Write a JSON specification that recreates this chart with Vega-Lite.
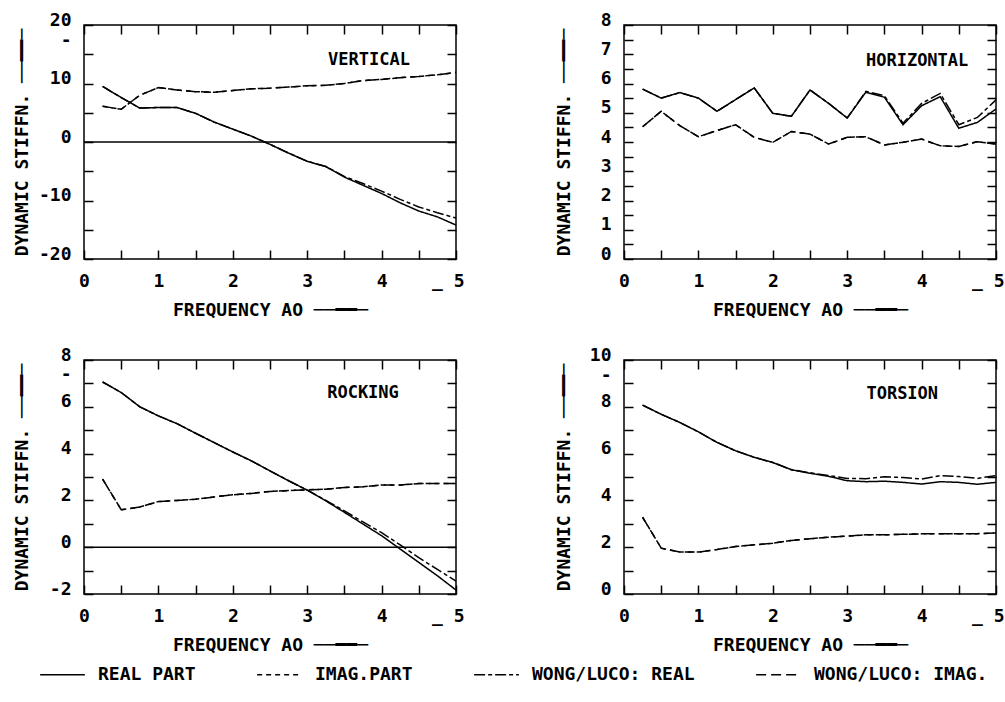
{
  "$schema": "https://vega.github.io/schema/vega-lite/v6.json",
  "background": "white",
  "padding": {"left": 12, "top": 10, "right": 5, "bottom": 5},
  "config": {
    "font": "DejaVu Sans Mono",
    "view": {"stroke": "black", "strokeWidth": 1.5},
    "axis": {
      "grid": false, "domain": false, "tickColor": "black", "tickWidth": 1.5, "tickSize": -9,
      "labelFont": "DejaVu Sans Mono", "labelFontSize": 18, "labelFontWeight": "bold", "labelColor": "black",
      "titleFont": "DejaVu Sans Mono", "titleFontSize": 18, "titleFontWeight": "bold", "titleColor": "black",
      "labelOverlap": false, "labelFlush": false
    },
    "legend": {
      "labelFont": "DejaVu Sans Mono", "labelFontSize": 18, "labelFontWeight": "bold", "labelColor": "black", "labelLimit": 0
    }
  },
  "datasets": {
    "curves": [
      {"p":"V","s":"REAL PART","x":0.25,"y":9.5},{"p":"V","s":"REAL PART","x":0.5,"y":7.6},{"p":"V","s":"REAL PART","x":0.75,"y":5.8},{"p":"V","s":"REAL PART","x":1.0,"y":5.9},{"p":"V","s":"REAL PART","x":1.25,"y":5.9},{"p":"V","s":"REAL PART","x":1.5,"y":4.9},{"p":"V","s":"REAL PART","x":1.75,"y":3.4},{"p":"V","s":"REAL PART","x":2.0,"y":2.2},{"p":"V","s":"REAL PART","x":2.25,"y":1.0},{"p":"V","s":"REAL PART","x":2.5,"y":-0.4},{"p":"V","s":"REAL PART","x":2.75,"y":-1.9},{"p":"V","s":"REAL PART","x":3.0,"y":-3.3},{"p":"V","s":"REAL PART","x":3.25,"y":-4.2},{"p":"V","s":"REAL PART","x":3.5,"y":-6.0},{"p":"V","s":"REAL PART","x":3.75,"y":-7.4},{"p":"V","s":"REAL PART","x":4.0,"y":-8.8},{"p":"V","s":"REAL PART","x":4.25,"y":-10.4},{"p":"V","s":"REAL PART","x":4.5,"y":-11.8},{"p":"V","s":"REAL PART","x":4.75,"y":-12.8},{"p":"V","s":"REAL PART","x":5.0,"y":-14.2},
      {"p":"V","s":"WONG/LUCO: REAL","x":0.25,"y":9.5},{"p":"V","s":"WONG/LUCO: REAL","x":0.5,"y":7.6},{"p":"V","s":"WONG/LUCO: REAL","x":0.75,"y":5.8},{"p":"V","s":"WONG/LUCO: REAL","x":1.0,"y":5.9},{"p":"V","s":"WONG/LUCO: REAL","x":1.25,"y":5.9},{"p":"V","s":"WONG/LUCO: REAL","x":1.5,"y":4.9},{"p":"V","s":"WONG/LUCO: REAL","x":1.75,"y":3.4},{"p":"V","s":"WONG/LUCO: REAL","x":2.0,"y":2.2},{"p":"V","s":"WONG/LUCO: REAL","x":2.25,"y":1.0},{"p":"V","s":"WONG/LUCO: REAL","x":2.5,"y":-0.4},{"p":"V","s":"WONG/LUCO: REAL","x":2.75,"y":-1.9},{"p":"V","s":"WONG/LUCO: REAL","x":3.0,"y":-3.3},{"p":"V","s":"WONG/LUCO: REAL","x":3.25,"y":-4.2},{"p":"V","s":"WONG/LUCO: REAL","x":3.5,"y":-5.9},{"p":"V","s":"WONG/LUCO: REAL","x":3.75,"y":-7.1},{"p":"V","s":"WONG/LUCO: REAL","x":4.0,"y":-8.4},{"p":"V","s":"WONG/LUCO: REAL","x":4.25,"y":-9.8},{"p":"V","s":"WONG/LUCO: REAL","x":4.5,"y":-11.1},{"p":"V","s":"WONG/LUCO: REAL","x":4.75,"y":-12.1},{"p":"V","s":"WONG/LUCO: REAL","x":5.0,"y":-13.0},
      {"p":"V","s":"IMAG.PART","x":0.25,"y":6.1},{"p":"V","s":"IMAG.PART","x":0.5,"y":5.6},{"p":"V","s":"IMAG.PART","x":0.75,"y":8.0},{"p":"V","s":"IMAG.PART","x":1.0,"y":9.3},{"p":"V","s":"IMAG.PART","x":1.25,"y":8.9},{"p":"V","s":"IMAG.PART","x":1.5,"y":8.6},{"p":"V","s":"IMAG.PART","x":1.75,"y":8.5},{"p":"V","s":"IMAG.PART","x":2.0,"y":8.8},{"p":"V","s":"IMAG.PART","x":2.25,"y":9.1},{"p":"V","s":"IMAG.PART","x":2.5,"y":9.2},{"p":"V","s":"IMAG.PART","x":2.75,"y":9.4},{"p":"V","s":"IMAG.PART","x":3.0,"y":9.6},{"p":"V","s":"IMAG.PART","x":3.25,"y":9.7},{"p":"V","s":"IMAG.PART","x":3.5,"y":10.0},{"p":"V","s":"IMAG.PART","x":3.75,"y":10.5},{"p":"V","s":"IMAG.PART","x":4.0,"y":10.7},{"p":"V","s":"IMAG.PART","x":4.25,"y":11.0},{"p":"V","s":"IMAG.PART","x":4.5,"y":11.2},{"p":"V","s":"IMAG.PART","x":4.75,"y":11.5},{"p":"V","s":"IMAG.PART","x":5.0,"y":11.9},
      {"p":"V","s":"WONG/LUCO: IMAG.","x":0.25,"y":6.1},{"p":"V","s":"WONG/LUCO: IMAG.","x":0.5,"y":5.6},{"p":"V","s":"WONG/LUCO: IMAG.","x":0.75,"y":8.0},{"p":"V","s":"WONG/LUCO: IMAG.","x":1.0,"y":9.3},{"p":"V","s":"WONG/LUCO: IMAG.","x":1.25,"y":8.9},{"p":"V","s":"WONG/LUCO: IMAG.","x":1.5,"y":8.6},{"p":"V","s":"WONG/LUCO: IMAG.","x":1.75,"y":8.5},{"p":"V","s":"WONG/LUCO: IMAG.","x":2.0,"y":8.8},{"p":"V","s":"WONG/LUCO: IMAG.","x":2.25,"y":9.1},{"p":"V","s":"WONG/LUCO: IMAG.","x":2.5,"y":9.2},{"p":"V","s":"WONG/LUCO: IMAG.","x":2.75,"y":9.4},{"p":"V","s":"WONG/LUCO: IMAG.","x":3.0,"y":9.6},{"p":"V","s":"WONG/LUCO: IMAG.","x":3.25,"y":9.7},{"p":"V","s":"WONG/LUCO: IMAG.","x":3.5,"y":10.0},{"p":"V","s":"WONG/LUCO: IMAG.","x":3.75,"y":10.5},{"p":"V","s":"WONG/LUCO: IMAG.","x":4.0,"y":10.7},{"p":"V","s":"WONG/LUCO: IMAG.","x":4.25,"y":11.0},{"p":"V","s":"WONG/LUCO: IMAG.","x":4.5,"y":11.2},{"p":"V","s":"WONG/LUCO: IMAG.","x":4.75,"y":11.5},{"p":"V","s":"WONG/LUCO: IMAG.","x":5.0,"y":11.9},

      {"p":"H","s":"REAL PART","x":0.25,"y":5.81},{"p":"H","s":"REAL PART","x":0.5,"y":5.50},{"p":"H","s":"REAL PART","x":0.75,"y":5.69},{"p":"H","s":"REAL PART","x":1.0,"y":5.50},{"p":"H","s":"REAL PART","x":1.25,"y":5.05},{"p":"H","s":"REAL PART","x":1.5,"y":5.45},{"p":"H","s":"REAL PART","x":1.75,"y":5.85},{"p":"H","s":"REAL PART","x":2.0,"y":4.98},{"p":"H","s":"REAL PART","x":2.25,"y":4.88},{"p":"H","s":"REAL PART","x":2.5,"y":5.78},{"p":"H","s":"REAL PART","x":2.75,"y":5.32},{"p":"H","s":"REAL PART","x":3.0,"y":4.82},{"p":"H","s":"REAL PART","x":3.25,"y":5.70},{"p":"H","s":"REAL PART","x":3.5,"y":5.53},{"p":"H","s":"REAL PART","x":3.75,"y":4.59},{"p":"H","s":"REAL PART","x":4.0,"y":5.24},{"p":"H","s":"REAL PART","x":4.25,"y":5.55},{"p":"H","s":"REAL PART","x":4.5,"y":4.47},{"p":"H","s":"REAL PART","x":4.75,"y":4.67},{"p":"H","s":"REAL PART","x":5.0,"y":5.13},
      {"p":"H","s":"WONG/LUCO: REAL","x":0.25,"y":5.81},{"p":"H","s":"WONG/LUCO: REAL","x":0.5,"y":5.50},{"p":"H","s":"WONG/LUCO: REAL","x":0.75,"y":5.69},{"p":"H","s":"WONG/LUCO: REAL","x":1.0,"y":5.50},{"p":"H","s":"WONG/LUCO: REAL","x":1.25,"y":5.05},{"p":"H","s":"WONG/LUCO: REAL","x":1.5,"y":5.45},{"p":"H","s":"WONG/LUCO: REAL","x":1.75,"y":5.85},{"p":"H","s":"WONG/LUCO: REAL","x":2.0,"y":4.98},{"p":"H","s":"WONG/LUCO: REAL","x":2.25,"y":4.88},{"p":"H","s":"WONG/LUCO: REAL","x":2.5,"y":5.78},{"p":"H","s":"WONG/LUCO: REAL","x":2.75,"y":5.32},{"p":"H","s":"WONG/LUCO: REAL","x":3.0,"y":4.82},{"p":"H","s":"WONG/LUCO: REAL","x":3.25,"y":5.73},{"p":"H","s":"WONG/LUCO: REAL","x":3.5,"y":5.58},{"p":"H","s":"WONG/LUCO: REAL","x":3.75,"y":4.64},{"p":"H","s":"WONG/LUCO: REAL","x":4.0,"y":5.32},{"p":"H","s":"WONG/LUCO: REAL","x":4.25,"y":5.66},{"p":"H","s":"WONG/LUCO: REAL","x":4.5,"y":4.59},{"p":"H","s":"WONG/LUCO: REAL","x":4.75,"y":4.84},{"p":"H","s":"WONG/LUCO: REAL","x":5.0,"y":5.44},
      {"p":"H","s":"IMAG.PART","x":0.25,"y":4.52},{"p":"H","s":"IMAG.PART","x":0.5,"y":5.05},{"p":"H","s":"IMAG.PART","x":0.75,"y":4.56},{"p":"H","s":"IMAG.PART","x":1.0,"y":4.18},{"p":"H","s":"IMAG.PART","x":1.25,"y":4.39},{"p":"H","s":"IMAG.PART","x":1.5,"y":4.59},{"p":"H","s":"IMAG.PART","x":1.75,"y":4.16},{"p":"H","s":"IMAG.PART","x":2.0,"y":3.99},{"p":"H","s":"IMAG.PART","x":2.25,"y":4.36},{"p":"H","s":"IMAG.PART","x":2.5,"y":4.27},{"p":"H","s":"IMAG.PART","x":2.75,"y":3.93},{"p":"H","s":"IMAG.PART","x":3.0,"y":4.16},{"p":"H","s":"IMAG.PART","x":3.25,"y":4.18},{"p":"H","s":"IMAG.PART","x":3.5,"y":3.90},{"p":"H","s":"IMAG.PART","x":3.75,"y":3.99},{"p":"H","s":"IMAG.PART","x":4.0,"y":4.10},{"p":"H","s":"IMAG.PART","x":4.25,"y":3.87},{"p":"H","s":"IMAG.PART","x":4.5,"y":3.85},{"p":"H","s":"IMAG.PART","x":4.75,"y":4.01},{"p":"H","s":"IMAG.PART","x":5.0,"y":3.93},
      {"p":"H","s":"WONG/LUCO: IMAG.","x":0.25,"y":4.52},{"p":"H","s":"WONG/LUCO: IMAG.","x":0.5,"y":5.05},{"p":"H","s":"WONG/LUCO: IMAG.","x":0.75,"y":4.56},{"p":"H","s":"WONG/LUCO: IMAG.","x":1.0,"y":4.18},{"p":"H","s":"WONG/LUCO: IMAG.","x":1.25,"y":4.39},{"p":"H","s":"WONG/LUCO: IMAG.","x":1.5,"y":4.59},{"p":"H","s":"WONG/LUCO: IMAG.","x":1.75,"y":4.16},{"p":"H","s":"WONG/LUCO: IMAG.","x":2.0,"y":3.99},{"p":"H","s":"WONG/LUCO: IMAG.","x":2.25,"y":4.36},{"p":"H","s":"WONG/LUCO: IMAG.","x":2.5,"y":4.27},{"p":"H","s":"WONG/LUCO: IMAG.","x":2.75,"y":3.93},{"p":"H","s":"WONG/LUCO: IMAG.","x":3.0,"y":4.16},{"p":"H","s":"WONG/LUCO: IMAG.","x":3.25,"y":4.18},{"p":"H","s":"WONG/LUCO: IMAG.","x":3.5,"y":3.90},{"p":"H","s":"WONG/LUCO: IMAG.","x":3.75,"y":3.99},{"p":"H","s":"WONG/LUCO: IMAG.","x":4.0,"y":4.10},{"p":"H","s":"WONG/LUCO: IMAG.","x":4.25,"y":3.87},{"p":"H","s":"WONG/LUCO: IMAG.","x":4.5,"y":3.85},{"p":"H","s":"WONG/LUCO: IMAG.","x":4.75,"y":4.01},{"p":"H","s":"WONG/LUCO: IMAG.","x":5.0,"y":3.93},

      {"p":"R","s":"REAL PART","x":0.25,"y":7.06},{"p":"R","s":"REAL PART","x":0.5,"y":6.61},{"p":"R","s":"REAL PART","x":0.75,"y":6.0},{"p":"R","s":"REAL PART","x":1.0,"y":5.61},{"p":"R","s":"REAL PART","x":1.25,"y":5.28},{"p":"R","s":"REAL PART","x":1.5,"y":4.87},{"p":"R","s":"REAL PART","x":1.75,"y":4.47},{"p":"R","s":"REAL PART","x":2.0,"y":4.07},{"p":"R","s":"REAL PART","x":2.25,"y":3.69},{"p":"R","s":"REAL PART","x":2.5,"y":3.26},{"p":"R","s":"REAL PART","x":2.75,"y":2.84},{"p":"R","s":"REAL PART","x":3.0,"y":2.44},{"p":"R","s":"REAL PART","x":3.25,"y":1.98},{"p":"R","s":"REAL PART","x":3.5,"y":1.49},{"p":"R","s":"REAL PART","x":3.75,"y":0.99},{"p":"R","s":"REAL PART","x":4.0,"y":0.49},{"p":"R","s":"REAL PART","x":4.25,"y":-0.08},{"p":"R","s":"REAL PART","x":4.5,"y":-0.65},{"p":"R","s":"REAL PART","x":4.75,"y":-1.22},{"p":"R","s":"REAL PART","x":5.0,"y":-1.83},
      {"p":"R","s":"WONG/LUCO: REAL","x":0.25,"y":7.06},{"p":"R","s":"WONG/LUCO: REAL","x":0.5,"y":6.61},{"p":"R","s":"WONG/LUCO: REAL","x":0.75,"y":6.0},{"p":"R","s":"WONG/LUCO: REAL","x":1.0,"y":5.61},{"p":"R","s":"WONG/LUCO: REAL","x":1.25,"y":5.28},{"p":"R","s":"WONG/LUCO: REAL","x":1.5,"y":4.87},{"p":"R","s":"WONG/LUCO: REAL","x":1.75,"y":4.47},{"p":"R","s":"WONG/LUCO: REAL","x":2.0,"y":4.07},{"p":"R","s":"WONG/LUCO: REAL","x":2.25,"y":3.69},{"p":"R","s":"WONG/LUCO: REAL","x":2.5,"y":3.26},{"p":"R","s":"WONG/LUCO: REAL","x":2.75,"y":2.84},{"p":"R","s":"WONG/LUCO: REAL","x":3.0,"y":2.44},{"p":"R","s":"WONG/LUCO: REAL","x":3.25,"y":2.0},{"p":"R","s":"WONG/LUCO: REAL","x":3.5,"y":1.55},{"p":"R","s":"WONG/LUCO: REAL","x":3.75,"y":1.08},{"p":"R","s":"WONG/LUCO: REAL","x":4.0,"y":0.62},{"p":"R","s":"WONG/LUCO: REAL","x":4.25,"y":0.1},{"p":"R","s":"WONG/LUCO: REAL","x":4.5,"y":-0.45},{"p":"R","s":"WONG/LUCO: REAL","x":4.75,"y":-0.95},{"p":"R","s":"WONG/LUCO: REAL","x":5.0,"y":-1.45},
      {"p":"R","s":"IMAG.PART","x":0.25,"y":2.91},{"p":"R","s":"IMAG.PART","x":0.5,"y":1.60},{"p":"R","s":"IMAG.PART","x":0.75,"y":1.72},{"p":"R","s":"IMAG.PART","x":1.0,"y":1.95},{"p":"R","s":"IMAG.PART","x":1.25,"y":2.0},{"p":"R","s":"IMAG.PART","x":1.5,"y":2.05},{"p":"R","s":"IMAG.PART","x":1.75,"y":2.15},{"p":"R","s":"IMAG.PART","x":2.0,"y":2.24},{"p":"R","s":"IMAG.PART","x":2.25,"y":2.3},{"p":"R","s":"IMAG.PART","x":2.5,"y":2.38},{"p":"R","s":"IMAG.PART","x":2.75,"y":2.42},{"p":"R","s":"IMAG.PART","x":3.0,"y":2.45},{"p":"R","s":"IMAG.PART","x":3.25,"y":2.48},{"p":"R","s":"IMAG.PART","x":3.5,"y":2.55},{"p":"R","s":"IMAG.PART","x":3.75,"y":2.58},{"p":"R","s":"IMAG.PART","x":4.0,"y":2.66},{"p":"R","s":"IMAG.PART","x":4.25,"y":2.66},{"p":"R","s":"IMAG.PART","x":4.5,"y":2.72},{"p":"R","s":"IMAG.PART","x":4.75,"y":2.72},{"p":"R","s":"IMAG.PART","x":5.0,"y":2.72},
      {"p":"R","s":"WONG/LUCO: IMAG.","x":0.25,"y":2.91},{"p":"R","s":"WONG/LUCO: IMAG.","x":0.5,"y":1.60},{"p":"R","s":"WONG/LUCO: IMAG.","x":0.75,"y":1.72},{"p":"R","s":"WONG/LUCO: IMAG.","x":1.0,"y":1.95},{"p":"R","s":"WONG/LUCO: IMAG.","x":1.25,"y":2.0},{"p":"R","s":"WONG/LUCO: IMAG.","x":1.5,"y":2.05},{"p":"R","s":"WONG/LUCO: IMAG.","x":1.75,"y":2.15},{"p":"R","s":"WONG/LUCO: IMAG.","x":2.0,"y":2.24},{"p":"R","s":"WONG/LUCO: IMAG.","x":2.25,"y":2.3},{"p":"R","s":"WONG/LUCO: IMAG.","x":2.5,"y":2.38},{"p":"R","s":"WONG/LUCO: IMAG.","x":2.75,"y":2.42},{"p":"R","s":"WONG/LUCO: IMAG.","x":3.0,"y":2.45},{"p":"R","s":"WONG/LUCO: IMAG.","x":3.25,"y":2.48},{"p":"R","s":"WONG/LUCO: IMAG.","x":3.5,"y":2.55},{"p":"R","s":"WONG/LUCO: IMAG.","x":3.75,"y":2.58},{"p":"R","s":"WONG/LUCO: IMAG.","x":4.0,"y":2.66},{"p":"R","s":"WONG/LUCO: IMAG.","x":4.25,"y":2.66},{"p":"R","s":"WONG/LUCO: IMAG.","x":4.5,"y":2.72},{"p":"R","s":"WONG/LUCO: IMAG.","x":4.75,"y":2.72},{"p":"R","s":"WONG/LUCO: IMAG.","x":5.0,"y":2.72},

      {"p":"T","s":"REAL PART","x":0.25,"y":8.07},{"p":"T","s":"REAL PART","x":0.5,"y":7.68},{"p":"T","s":"REAL PART","x":0.75,"y":7.33},{"p":"T","s":"REAL PART","x":1.0,"y":6.93},{"p":"T","s":"REAL PART","x":1.25,"y":6.48},{"p":"T","s":"REAL PART","x":1.5,"y":6.12},{"p":"T","s":"REAL PART","x":1.75,"y":5.84},{"p":"T","s":"REAL PART","x":2.0,"y":5.62},{"p":"T","s":"REAL PART","x":2.25,"y":5.31},{"p":"T","s":"REAL PART","x":2.5,"y":5.16},{"p":"T","s":"REAL PART","x":2.75,"y":5.03},{"p":"T","s":"REAL PART","x":3.0,"y":4.84},{"p":"T","s":"REAL PART","x":3.25,"y":4.80},{"p":"T","s":"REAL PART","x":3.5,"y":4.82},{"p":"T","s":"REAL PART","x":3.75,"y":4.77},{"p":"T","s":"REAL PART","x":4.0,"y":4.70},{"p":"T","s":"REAL PART","x":4.25,"y":4.80},{"p":"T","s":"REAL PART","x":4.5,"y":4.77},{"p":"T","s":"REAL PART","x":4.75,"y":4.69},{"p":"T","s":"REAL PART","x":5.0,"y":4.77},
      {"p":"T","s":"WONG/LUCO: REAL","x":0.25,"y":8.07},{"p":"T","s":"WONG/LUCO: REAL","x":0.5,"y":7.68},{"p":"T","s":"WONG/LUCO: REAL","x":0.75,"y":7.33},{"p":"T","s":"WONG/LUCO: REAL","x":1.0,"y":6.93},{"p":"T","s":"WONG/LUCO: REAL","x":1.25,"y":6.48},{"p":"T","s":"WONG/LUCO: REAL","x":1.5,"y":6.12},{"p":"T","s":"WONG/LUCO: REAL","x":1.75,"y":5.84},{"p":"T","s":"WONG/LUCO: REAL","x":2.0,"y":5.62},{"p":"T","s":"WONG/LUCO: REAL","x":2.25,"y":5.31},{"p":"T","s":"WONG/LUCO: REAL","x":2.5,"y":5.18},{"p":"T","s":"WONG/LUCO: REAL","x":2.75,"y":5.06},{"p":"T","s":"WONG/LUCO: REAL","x":3.0,"y":4.94},{"p":"T","s":"WONG/LUCO: REAL","x":3.25,"y":4.93},{"p":"T","s":"WONG/LUCO: REAL","x":3.5,"y":5.01},{"p":"T","s":"WONG/LUCO: REAL","x":3.75,"y":4.98},{"p":"T","s":"WONG/LUCO: REAL","x":4.0,"y":4.91},{"p":"T","s":"WONG/LUCO: REAL","x":4.25,"y":5.06},{"p":"T","s":"WONG/LUCO: REAL","x":4.5,"y":5.02},{"p":"T","s":"WONG/LUCO: REAL","x":4.75,"y":4.94},{"p":"T","s":"WONG/LUCO: REAL","x":5.0,"y":5.06},
      {"p":"T","s":"IMAG.PART","x":0.25,"y":3.28},{"p":"T","s":"IMAG.PART","x":0.5,"y":1.96},{"p":"T","s":"IMAG.PART","x":0.75,"y":1.79},{"p":"T","s":"IMAG.PART","x":1.0,"y":1.79},{"p":"T","s":"IMAG.PART","x":1.25,"y":1.90},{"p":"T","s":"IMAG.PART","x":1.5,"y":2.03},{"p":"T","s":"IMAG.PART","x":1.75,"y":2.10},{"p":"T","s":"IMAG.PART","x":2.0,"y":2.17},{"p":"T","s":"IMAG.PART","x":2.25,"y":2.29},{"p":"T","s":"IMAG.PART","x":2.5,"y":2.36},{"p":"T","s":"IMAG.PART","x":2.75,"y":2.43},{"p":"T","s":"IMAG.PART","x":3.0,"y":2.47},{"p":"T","s":"IMAG.PART","x":3.25,"y":2.53},{"p":"T","s":"IMAG.PART","x":3.5,"y":2.53},{"p":"T","s":"IMAG.PART","x":3.75,"y":2.55},{"p":"T","s":"IMAG.PART","x":4.0,"y":2.57},{"p":"T","s":"IMAG.PART","x":4.25,"y":2.57},{"p":"T","s":"IMAG.PART","x":4.5,"y":2.57},{"p":"T","s":"IMAG.PART","x":4.75,"y":2.58},{"p":"T","s":"IMAG.PART","x":5.0,"y":2.61},
      {"p":"T","s":"WONG/LUCO: IMAG.","x":0.25,"y":3.28},{"p":"T","s":"WONG/LUCO: IMAG.","x":0.5,"y":1.96},{"p":"T","s":"WONG/LUCO: IMAG.","x":0.75,"y":1.79},{"p":"T","s":"WONG/LUCO: IMAG.","x":1.0,"y":1.79},{"p":"T","s":"WONG/LUCO: IMAG.","x":1.25,"y":1.90},{"p":"T","s":"WONG/LUCO: IMAG.","x":1.5,"y":2.03},{"p":"T","s":"WONG/LUCO: IMAG.","x":1.75,"y":2.10},{"p":"T","s":"WONG/LUCO: IMAG.","x":2.0,"y":2.17},{"p":"T","s":"WONG/LUCO: IMAG.","x":2.25,"y":2.29},{"p":"T","s":"WONG/LUCO: IMAG.","x":2.5,"y":2.36},{"p":"T","s":"WONG/LUCO: IMAG.","x":2.75,"y":2.43},{"p":"T","s":"WONG/LUCO: IMAG.","x":3.0,"y":2.47},{"p":"T","s":"WONG/LUCO: IMAG.","x":3.25,"y":2.53},{"p":"T","s":"WONG/LUCO: IMAG.","x":3.5,"y":2.53},{"p":"T","s":"WONG/LUCO: IMAG.","x":3.75,"y":2.55},{"p":"T","s":"WONG/LUCO: IMAG.","x":4.0,"y":2.57},{"p":"T","s":"WONG/LUCO: IMAG.","x":4.25,"y":2.57},{"p":"T","s":"WONG/LUCO: IMAG.","x":4.5,"y":2.57},{"p":"T","s":"WONG/LUCO: IMAG.","x":4.75,"y":2.58},{"p":"T","s":"WONG/LUCO: IMAG.","x":5.0,"y":2.61}
    ],
    "labels": [
      {"p":"V","label":"VERTICAL","x":3.83,"y":14.1},
      {"p":"H","label":"HORIZONTAL","x":3.94,"y":6.77},
      {"p":"R","label":"ROCKING","x":3.75,"y":6.6},
      {"p":"T","label":"TORSION","x":3.74,"y":8.55}
    ]
  },
  "concat": [
    {
      "width": 372, "height": 234,
      "layer": [
        {"data": {"name": "curves"}, "transform": [{"filter": "datum.p == 'V'"}],
         "mark": {"type": "line", "color": "black", "strokeWidth": 1.5},
         "encoding": {
           "x": {"field": "x", "type": "quantitative", "scale": {"domain": [0, 5], "nice": false},
             "axis": {"orient": "bottom", "values": [0,0.5,1,1.5,2,2.5,3,3.5,4,4.5,5], "labelExpr": "datum.value == 5 ? '_ 5' : (datum.value % 1 == 0 ? '' + datum.value : '')",
               "labelAlign": {"condition": {"test": "datum.value == 5", "value": "right"}, "value": "center"},
               "labelOffset": {"condition": {"test": "datum.value == 5", "value": 8}, "value": 0},
               "labelPadding": 22, "title": "FREQUENCY AO  ──━━─", "titleX": 186, "titleY": 51, "titleBaseline": "middle", "titleAlign": "center"}},
           "y": {"field": "y", "type": "quantitative", "scale": {"domain": [-20, 20], "nice": false},
             "axis": {"orient": "left", "values": [-20,-15,-10,-5,0,5,10,15,20], "labelExpr": "datum.value == 15 ? '-' : (datum.value % 10 == 0 ? '' + datum.value : '')",
               "labelOffset": {"condition": {"test": "datum.value == 15", "value": -14}, "value": -5},
               "labelPadding": 22, "title": "DYNAMIC STIFFN.  ──━━─", "titleX": -62, "titleY": 117, "titleBaseline": "middle", "titleAlign": "center", "titleAngle": -90}},
           "strokeDash": {"field": "s", "type": "nominal",
             "scale": {"domain": ["REAL PART", "IMAG.PART", "WONG/LUCO: REAL", "WONG/LUCO: IMAG."], "range": [[1,0],[5,4],[11,3,4,3],[10,5]]},
             "legend": {"orient": "none", "legendX": -45, "legendY": 626, "direction": "horizontal", "title": null, "symbolType": "stroke", "symbolSize": 2000, "symbolStrokeWidth": 1.5, "symbolStrokeColor": "black", "labelOffset": 12, "columnPadding": 58}}
         }},
        {"data": {"values": [{"y": 0}]}, "mark": {"type": "rule", "color": "black", "strokeWidth": 1.5},
         "encoding": {"y": {"field": "y", "type": "quantitative", "axis": null}}},
        {"data": {"name": "labels"}, "transform": [{"filter": "datum.p == 'V'"}],
         "mark": {"type": "text", "font": "DejaVu Sans Mono", "fontSize": 17, "fontWeight": "bold", "color": "black"},
         "encoding": {
           "x": {"field": "x", "type": "quantitative", "axis": {"orient": "top", "values": [0,0.5,1,1.5,2,2.5,3,3.5,4,4.5,5], "labels": false, "title": null}},
           "y": {"field": "y", "type": "quantitative", "axis": {"orient": "right", "values": [-20,-15,-10,-5,0,5,10,15,20], "labels": false, "title": null}},
           "text": {"field": "label"}
         }}
      ],
      "resolve": {"axis": {"x": "independent", "y": "independent"}}
    },
    {
      "width": 372, "height": 234,
      "layer": [
        {"data": {"name": "curves"}, "transform": [{"filter": "datum.p == 'H'"}],
         "mark": {"type": "line", "color": "black", "strokeWidth": 1.5},
         "encoding": {
           "x": {"field": "x", "type": "quantitative", "scale": {"domain": [0, 5], "nice": false},
             "axis": {"orient": "bottom", "values": [0,0.5,1,1.5,2,2.5,3,3.5,4,4.5,5], "labelExpr": "datum.value == 5 ? '_ 5' : (datum.value % 1 == 0 ? '' + datum.value : '')",
               "labelAlign": {"condition": {"test": "datum.value == 5", "value": "right"}, "value": "center"},
               "labelOffset": {"condition": {"test": "datum.value == 5", "value": 8}, "value": 0},
               "labelPadding": 22, "title": "FREQUENCY AO  ──━━─", "titleX": 186, "titleY": 51, "titleBaseline": "middle", "titleAlign": "center"}},
           "y": {"field": "y", "type": "quantitative", "scale": {"domain": [0, 8], "nice": false},
             "axis": {"orient": "left", "values": [0,0.5,1,1.5,2,2.5,3,3.5,4,4.5,5,5.5,6,6.5,7,7.5,8], "labelExpr": "datum.value % 1 == 0 ? '' + datum.value : ''",
               "labelOffset": -5,
               "labelPadding": 22, "title": "DYNAMIC STIFFN.  ──━━─", "titleX": -60, "titleY": 117, "titleBaseline": "middle", "titleAlign": "center", "titleAngle": -90}},
           "strokeDash": {"field": "s", "type": "nominal"}
         }},
        {"data": {"name": "labels"}, "transform": [{"filter": "datum.p == 'H'"}],
         "mark": {"type": "text", "font": "DejaVu Sans Mono", "fontSize": 17, "fontWeight": "bold", "color": "black"},
         "encoding": {
           "x": {"field": "x", "type": "quantitative", "axis": {"orient": "top", "values": [0,0.5,1,1.5,2,2.5,3,3.5,4,4.5,5], "labels": false, "title": null}},
           "y": {"field": "y", "type": "quantitative", "axis": {"orient": "right", "values": [0,0.5,1,1.5,2,2.5,3,3.5,4,4.5,5,5.5,6,6.5,7,7.5,8], "labels": false, "title": null}},
           "text": {"field": "label"}
         }}
      ],
      "resolve": {"axis": {"x": "independent", "y": "independent"}}
    },
    {
      "width": 372, "height": 234,
      "layer": [
        {"data": {"name": "curves"}, "transform": [{"filter": "datum.p == 'R'"}],
         "mark": {"type": "line", "color": "black", "strokeWidth": 1.5},
         "encoding": {
           "x": {"field": "x", "type": "quantitative", "scale": {"domain": [0, 5], "nice": false},
             "axis": {"orient": "bottom", "values": [0,0.5,1,1.5,2,2.5,3,3.5,4,4.5,5], "labelExpr": "datum.value == 5 ? '_ 5' : (datum.value % 1 == 0 ? '' + datum.value : '')",
               "labelAlign": {"condition": {"test": "datum.value == 5", "value": "right"}, "value": "center"},
               "labelOffset": {"condition": {"test": "datum.value == 5", "value": 8}, "value": 0},
               "labelPadding": 22, "title": "FREQUENCY AO  ──━━─", "titleX": 186, "titleY": 51, "titleBaseline": "middle", "titleAlign": "center"}},
           "y": {"field": "y", "type": "quantitative", "scale": {"domain": [-2, 8], "nice": false},
             "axis": {"orient": "left", "values": [-2,-1,0,1,2,3,4,5,6,7,8], "labelExpr": "datum.value == 7 ? '-' : (datum.value % 2 == 0 ? '' + datum.value : '')",
               "labelOffset": {"condition": {"test": "datum.value == 7", "value": -9}, "value": -5},
               "labelPadding": 22, "title": "DYNAMIC STIFFN.  ──━━─", "titleX": -62, "titleY": 117, "titleBaseline": "middle", "titleAlign": "center", "titleAngle": -90}},
           "strokeDash": {"field": "s", "type": "nominal"}
         }},
        {"data": {"values": [{"y": 0}]}, "mark": {"type": "rule", "color": "black", "strokeWidth": 1.5},
         "encoding": {"y": {"field": "y", "type": "quantitative", "axis": null}}},
        {"data": {"name": "labels"}, "transform": [{"filter": "datum.p == 'R'"}],
         "mark": {"type": "text", "font": "DejaVu Sans Mono", "fontSize": 17, "fontWeight": "bold", "color": "black"},
         "encoding": {
           "x": {"field": "x", "type": "quantitative", "axis": {"orient": "top", "values": [0,0.5,1,1.5,2,2.5,3,3.5,4,4.5,5], "labels": false, "title": null}},
           "y": {"field": "y", "type": "quantitative", "axis": {"orient": "right", "values": [-2,-1,0,1,2,3,4,5,6,7,8], "labels": false, "title": null}},
           "text": {"field": "label"}
         }}
      ],
      "resolve": {"axis": {"x": "independent", "y": "independent"}}
    },
    {
      "width": 372, "height": 234,
      "layer": [
        {"data": {"name": "curves"}, "transform": [{"filter": "datum.p == 'T'"}],
         "mark": {"type": "line", "color": "black", "strokeWidth": 1.5},
         "encoding": {
           "x": {"field": "x", "type": "quantitative", "scale": {"domain": [0, 5], "nice": false},
             "axis": {"orient": "bottom", "values": [0,0.5,1,1.5,2,2.5,3,3.5,4,4.5,5], "labelExpr": "datum.value == 5 ? '_ 5' : (datum.value % 1 == 0 ? '' + datum.value : '')",
               "labelAlign": {"condition": {"test": "datum.value == 5", "value": "right"}, "value": "center"},
               "labelOffset": {"condition": {"test": "datum.value == 5", "value": 8}, "value": 0},
               "labelPadding": 22, "title": "FREQUENCY AO  ──━━─", "titleX": 186, "titleY": 51, "titleBaseline": "middle", "titleAlign": "center"}},
           "y": {"field": "y", "type": "quantitative", "scale": {"domain": [0, 10], "nice": false},
             "axis": {"orient": "left", "values": [0,1,2,3,4,5,6,7,8,9,10], "labelExpr": "datum.value == 9 ? '-' : (datum.value % 2 == 0 ? '' + datum.value : '')",
               "labelOffset": {"condition": {"test": "datum.value == 9", "value": -8}, "value": -5},
               "labelPadding": 22, "title": "DYNAMIC STIFFN.  ──━━─", "titleX": -60, "titleY": 117, "titleBaseline": "middle", "titleAlign": "center", "titleAngle": -90}},
           "strokeDash": {"field": "s", "type": "nominal"}
         }},
        {"data": {"name": "labels"}, "transform": [{"filter": "datum.p == 'T'"}],
         "mark": {"type": "text", "font": "DejaVu Sans Mono", "fontSize": 17, "fontWeight": "bold", "color": "black"},
         "encoding": {
           "x": {"field": "x", "type": "quantitative", "axis": {"orient": "top", "values": [0,0.5,1,1.5,2,2.5,3,3.5,4,4.5,5], "labels": false, "title": null}},
           "y": {"field": "y", "type": "quantitative", "axis": {"orient": "right", "values": [0,1,2,3,4,5,6,7,8,9,10], "labels": false, "title": null}},
           "text": {"field": "label"}
         }}
      ],
      "resolve": {"axis": {"x": "independent", "y": "independent"}}
    }
  ],
  "columns": 2,
  "bounds": "flush",
  "spacing": {"row": 101, "column": 168}
}
